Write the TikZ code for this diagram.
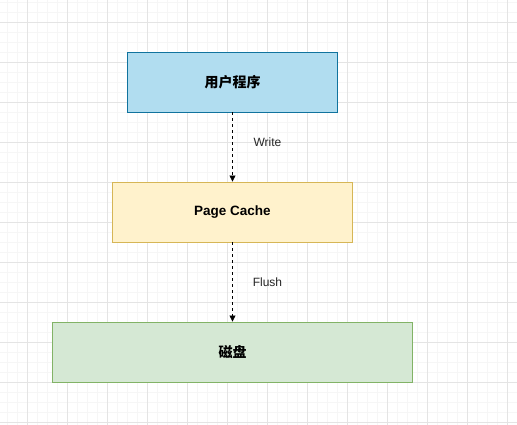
\documentclass[tikz,border=0pt]{standalone}
\usepackage{fontspec}
\setmainfont{Liberation Sans}
\newfontfamily\cjk{Noto Sans CJK SC}
\usetikzlibrary{arrows.meta}
\definecolor{minorgrid}{HTML}{F6F6F6}
\definecolor{majorgrid}{HTML}{E4E4E4}
\definecolor{bluefill}{HTML}{B1DDF0}
\definecolor{bluedraw}{HTML}{10739E}
\definecolor{yelfill}{HTML}{FFF2CC}
\definecolor{yeldraw}{HTML}{D6B656}
\definecolor{grnfill}{HTML}{D5E8D4}
\definecolor{grndraw}{HTML}{82B366}
\tikzset{
  box/.style={draw, line width=0.9pt, inner sep=0pt, font=\fontsize{13.5}{16}\selectfont\bfseries},
  flow/.style={draw=black, line width=0.8pt, dash pattern=on 3pt off 3pt, -{Triangle[length=6pt,width=6pt]}},
  lbl/.style={font=\fontsize{12}{14}\selectfont, text=black!85}
}
\begin{document}
\begin{tikzpicture}[x=1pt,y=-1pt]
\useasboundingbox (0,0) rectangle (517,425);
\fill[white] (0,0) rectangle (517,425);
\foreach \x in {7,17,...,517} \draw[minorgrid, line width=0.6pt] (\x,0) -- (\x,425);
\foreach \y in {2,12,...,425} \draw[minorgrid, line width=0.6pt] (0,\y) -- (517,\y);
\foreach \x in {27,67,...,517} \draw[majorgrid, line width=0.8pt] (\x,0) -- (\x,425);
\foreach \y in {22,62,...,425} \draw[majorgrid, line width=0.8pt] (0,\y) -- (517,\y);
\node[box, draw=bluedraw, fill=bluefill, minimum width=210pt, minimum height=60pt] (app) at (232.5,82) {\fontsize{14}{16}\selectfont\cjk\bfseries 用户程序};
\node[box, draw=yeldraw, fill=yelfill, minimum width=240pt, minimum height=60pt] (cache) at (232.5,212) {Page Cache};
\node[box, draw=grndraw, fill=grnfill, minimum width=360pt, minimum height=60pt] (disk) at (232.5,352) {\fontsize{14}{16}\selectfont\cjk\bfseries 磁盘};
\draw[flow] (app.south) -- (cache.north);
\draw[flow] (cache.south) -- (disk.north);
\node[lbl] (w) at (267.5,142) {Write};
\node[lbl] (f) at (267.5,282) {Flush};
\end{tikzpicture}
\end{document}
